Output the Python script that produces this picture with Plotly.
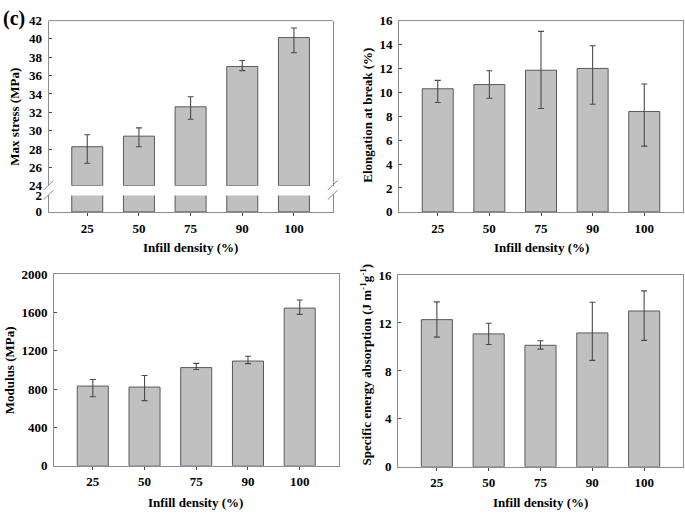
import plotly.graph_objects as go

# ---------------- data ----------------
infill = ["25", "50", "75", "90", "100"]

max_stress = [28.25, 29.4, 32.6, 37.0, 40.15]
max_stress_err_plus = [1.3, 0.9, 1.1, 0.65, 1.05]
max_stress_err_minus = [1.8, 1.15, 1.35, 0.45, 1.65]

elongation = [10.3, 10.65, 11.85, 12.0, 8.4]
elongation_err_plus = [0.7, 1.15, 3.25, 1.9, 2.3]
elongation_err_minus = [1.15, 1.15, 3.2, 3.0, 2.9]

modulus = [832, 822, 1025, 1093, 1645]
modulus_err_plus = [68, 120, 44, 50, 84]
modulus_err_minus = [111, 142, 20, 27, 65]

sea = [12.28, 11.09, 10.14, 11.17, 13.0]
sea_err_plus = [1.48, 0.89, 0.38, 2.56, 1.68]
sea_err_minus = [1.46, 0.89, 0.32, 2.29, 2.45]

break_low = 24  # lower limit of the upper (broken) axis segment

# ---------------- style ----------------
W, H = 685, 520
FILL = "#c0c0c0"
EDGE = "#5a5a5a"
AXC = "#8c8c8c"
ERRC = "#4a4a4a"
FONT = "Liberation Serif"
TICKF = dict(family=FONT, size=13, color="black", weight="bold")
TITLEF = dict(family=FONT, size=13, color="black", weight="bold")
XR = [-0.75, 4.75]


def px(x):
    return x / W


def py(y):
    return 1 - y / H


def err(plus, minus):
    return dict(type="data", symmetric=False, array=plus, arrayminus=minus,
                color=ERRC, thickness=1.1, width=3)


def bar(x, y, xa, ya, e=None, base=None):
    return go.Bar(x=x, y=y, base=base, xaxis=xa, yaxis=ya, width=0.6,
                  marker=dict(color=FILL, line=dict(color=EDGE, width=1)),
                  error_y=e, showlegend=False, hoverinfo="x+y")


fig = go.Figure()

# top-left: broken axis, lower segment (0-2) and upper segment (24-42)
fig.add_trace(bar(infill, max_stress, "x", "y"))
fig.add_trace(bar(infill, [v - break_low for v in max_stress], "x2", "y2",
                  e=err(max_stress_err_plus, max_stress_err_minus),
                  base=[break_low] * len(max_stress)))
# top-right
fig.add_trace(bar(infill, elongation, "x3", "y3",
                  e=err(elongation_err_plus, elongation_err_minus)))
# bottom-left
fig.add_trace(bar(infill, modulus, "x4", "y4",
                  e=err(modulus_err_plus, modulus_err_minus)))
# bottom-right
fig.add_trace(bar(infill, sea, "x5", "y5",
                  e=err(sea_err_plus, sea_err_minus)))


def xaxis(dom, anchor, show_labels=True, showline=True, mirror=False):
    return dict(domain=dom, anchor=anchor, type="category", range=XR,
                showgrid=False, zeroline=False, showline=showline,
                linecolor=AXC, linewidth=1, mirror=mirror,
                ticks="outside" if show_labels else "", ticklen=3,
                tickcolor=ERRC, tickwidth=1,
                showticklabels=show_labels, tickfont=TICKF,
                ticklabelstandoff=1)


def yaxis(dom, anchor, rng, dtick, mirror=True):
    return dict(domain=dom, anchor=anchor, range=rng, dtick=dtick,
                showgrid=False, zeroline=False, showline=True,
                linecolor=AXC, linewidth=1, mirror=mirror,
                ticks="inside", ticklen=3, tickcolor=ERRC, tickwidth=1,
                tickfont=TICKF, ticklabelstandoff=3)


# pixel geometry of panels
TL = [px(48.5), px(332.7)]
TR = [px(399), px(683)]
BL = [px(54), px(338.5)]
BR = [px(398), px(683)]

fig.update_layout(
    width=W, height=H,
    margin=dict(l=0, r=0, t=0, b=0),
    paper_bgcolor="white", plot_bgcolor="white",
    bargap=0.4,
    xaxis=xaxis(TL, "y"),
    yaxis=yaxis([py(211), py(194)], "x", [0, 2], 2),
    xaxis2=xaxis(TL, "y2", show_labels=False, showline=False),
    yaxis2=yaxis([py(184), py(14)], "x2", [24, 42], 2),
    xaxis3=xaxis(TR, "y3", mirror=True),
    yaxis3=yaxis([py(211), py(14)], "x3", [0, 16], 2),
    xaxis4=xaxis(BL, "y4", mirror=True),
    yaxis4=yaxis([py(472.5), py(275)], "x4", [0, 2000], 400),
    xaxis5=xaxis(BR, "y5", mirror=True),
    yaxis5=yaxis([py(473.5), py(276)], "x5", [0, 16], 4),
)

# top line for the upper broken segment
fig.add_shape(type="line", xref="paper", yref="paper",
              x0=TL[0], x1=TL[1], y0=py(14), y1=py(14),
              line=dict(color=AXC, width=1))

# break marks (decoration)
for xc in (48.5, 332.7):
    for yc in (183.5, 193.5):
        fig.add_shape(type="line", xref="paper", yref="paper",
                      x0=px(xc - 5), y0=py(yc + 5), x1=px(xc + 5), y1=py(yc - 5),
                      line=dict(color=AXC, width=1))

ann = []
# x titles
for xc, yc in ((190.6, 248), (541, 248), (196, 510), (540.5, 510)):
    ann.append(dict(text="Infill density (%)", x=px(xc), y=py(yc),
                    xref="paper", yref="paper", showarrow=False,
                    font=TITLEF, xanchor="center", yanchor="middle"))
# y titles
for txt, xc, yc in (("Max stress (MPa)", 15, 113),
                    ("Elongation at break (%)", 368, 112),
                    ("Modulus (MPa)", 9, 374),
                    ("Specific energy absorption (J m<sup>-1</sup>g<sup>-1</sup>)", 366, 368)):
    ann.append(dict(text=txt, x=px(xc), y=py(yc), xref="paper", yref="paper",
                    showarrow=False, textangle=-90, font=TITLEF,
                    xanchor="center", yanchor="middle"))
# panel label
ann.append(dict(text="(c)", x=px(1), y=py(12), xref="paper", yref="paper",
                showarrow=False, xanchor="left", yanchor="middle",
                font=dict(family=FONT, size=20, color="black", weight="bold")))
fig.update_layout(annotations=ann)

fig.write_html("out.html",
               config={"displayModeBar": False},
               post_script="document.body.style.margin='0';"
                           "document.body.style.overflow='hidden';")
